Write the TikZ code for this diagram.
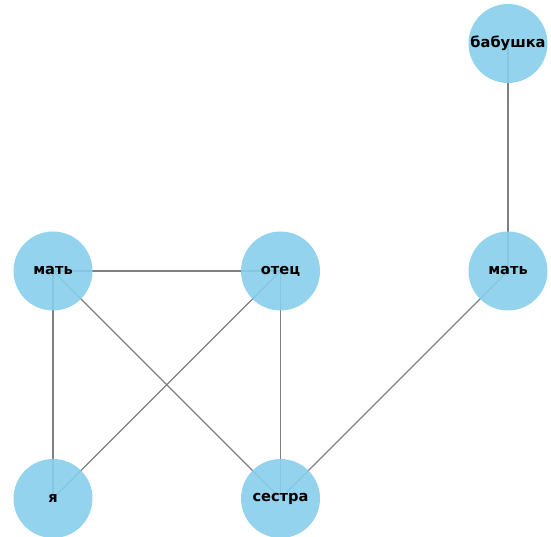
\documentclass[tikz,border=0pt]{standalone}
\usepackage{fontspec}
\setmainfont{DejaVu Sans}
\usepackage{xcolor}
\usetikzlibrary{positioning,backgrounds}
\definecolor{nodeblue}{HTML}{87CEEB}
\definecolor{edgegray}{HTML}{808080}

\begin{document}
\begin{tikzpicture}[
    x=1pt,y=1pt,
    font=\fontsize{14.6}{17}\selectfont\bfseries,
    node distance=227.5pt,
    on grid,
    person/.style={circle,fill=nodeblue,fill opacity=0.9,text opacity=1,
      minimum size=79pt,inner sep=0pt},
    link/.style={draw=edgegray,line width=1.4pt},
    ]
    \useasboundingbox (-53,-266) rectangle (498,271);
    \node[person]                  (mat1)     at (0,0) {мать};
    \node[person,right=of mat1]    (otec)     {отец};
    \node[person,right=of otec]    (mat2)     {мать};
    \node[person,above=of mat2]    (babushka) {бабушка};
    \node[person,below=of mat1]    (ya)       {я};
    \node[person,below=of otec]    (sestra)   {сестра};

    % edges behind the nodes
    \begin{scope}[on background layer]
      \draw[link] (mat1.center) -- (otec.center);
      \draw[link] (mat1.center) -- (ya.center);
      \draw[link] (mat1.center) -- (sestra.center);
      \draw[link] (otec.center) -- (ya.center);
      \draw[link] (otec.center) -- (sestra.center);
      \draw[link] (mat2.center) -- (sestra.center);
      \draw[link] (babushka.center) -- (mat2.center);
    \end{scope}
  \end{tikzpicture}
\end{document}
